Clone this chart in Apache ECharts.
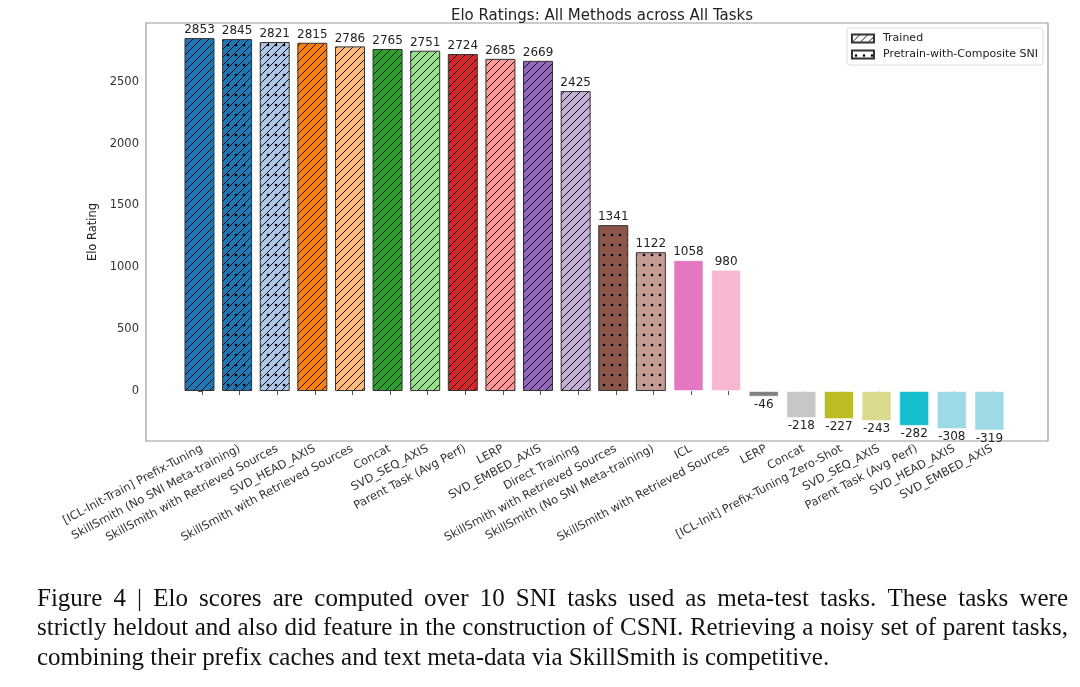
<!DOCTYPE html>
<html>
<head>
<meta charset="utf-8">
<script src="https://cdn.jsdelivr.net/npm/echarts@6/dist/echarts.min.js"></script>
<style>
  html, body { margin: 0; padding: 0; background: #fff; }
  #chart { width: 1080px; height: 687px; }
</style>
</head>
<body>
<div id="chart"></div>
<script>
var methods = [
  '[ICL-Init-Train] Prefix-Tuning',
  'SkillSmith (No SNI Meta-training)',
  'SkillSmith with Retrieved Sources',
  'SVD_HEAD_AXIS',
  'SkillSmith with Retrieved Sources',
  'Concat',
  'SVD_SEQ_AXIS',
  'Parent Task (Avg Perf)',
  'LERP',
  'SVD_EMBED_AXIS',
  'Direct Training',
  'SkillSmith with Retrieved Sources',
  'SkillSmith (No SNI Meta-training)',
  'ICL',
  'SkillSmith with Retrieved Sources',
  'LERP',
  'Concat',
  '[ICL-Init] Prefix-Tuning Zero-Shot',
  'SVD_SEQ_AXIS',
  'Parent Task (Avg Perf)',
  'SVD_HEAD_AXIS',
  'SVD_EMBED_AXIS'
];
var elo = [2853, 2845, 2821, 2815, 2786, 2765, 2751, 2724, 2685, 2669, 2425,
           1341, 1122, 1058, 980, -46, -218, -227, -243, -282, -308, -319];
// tab20 colours
var colors = ['#1f77b4', '#1f77b4', '#aec7e8', '#ff7f0e', '#ffbb78', '#2ca02c', '#98df8a',
              '#d62728', '#ff9896', '#9467bd', '#c5b0d5', '#8c564b', '#c49c94', '#e377c2',
              '#f7b6d2', '#7f7f7f', '#c7c7c7', '#bcbd22', '#dbdb8d', '#17becf', '#9edae5', '#9edae5'];
// 1 = trained (hatched //)
var trained   = [1,1,1,1,1,1,1,1,1,1,1,0,0,0,0,0,0,0,0,0,0,0];
// 1 = pretrained with composite SNI (dotted)
var composite = [0,1,1,0,0,0,0,0,0,0,0,1,1,0,0,0,0,0,0,0,0,0];
var yTicks = [0, 500, 1000, 1500, 2000, 2500];
var caption = [
  'Figure 4 | Elo scores are computed over 10 SNI tasks used as meta-test tasks.  These tasks were',
  'strictly heldout and also did feature in the construction of CSNI. Retrieving a noisy set of parent tasks,',
  'combining their prefix caches and text meta-data via SkillSmith is competitive.'
];

// hatch tile: 8px wide, 40px tall (lines every 8px, dots every 8 x 10px)
function makePattern(bg, lines, dots) {
  var w = 8, h = 40;
  var c = document.createElement('canvas');
  c.width = w; c.height = h;
  var ctx = c.getContext('2d');
  ctx.fillStyle = bg;
  ctx.fillRect(0, 0, w, h);
  if (lines) {
    ctx.strokeStyle = '#000';
    ctx.lineWidth = 0.9;
    ctx.beginPath();
    for (var k = 0; k <= h / w + 1; k++) {
      ctx.moveTo(-1, k * w + 1);
      ctx.lineTo(w + 1, k * w - w - 1);
    }
    ctx.stroke();
  }
  if (dots) {
    ctx.fillStyle = '#000';
    for (var r = 0; r < h; r += 10) {
      ctx.beginPath();
      ctx.arc(4, r + 5, 1.3, 0, Math.PI * 2);
      ctx.fill();
    }
  }
  return { image: c, repeat: 'repeat' };
}

var barData = elo.map(function (v, i) {
  var hatched = trained[i] || composite[i];
  return {
    value: [i, v],
    itemStyle: {
      color: hatched ? makePattern(colors[i], trained[i], composite[i]) : colors[i],
      borderColor: hatched ? '#333' : 'rgba(255,255,255,0.6)',
      borderWidth: 1
    },
    label: { position: v < 0 ? 'bottom' : 'top' }
  };
});

var idx = methods.map(function (m, i) { return i; });

// caption: justified like the paper (all lines but the last)
var capFont = '25px "Liberation Serif"';
var capLeft = 37, capWidth = 1031, capTop = 587, capLead = 29.3;
var measure = document.createElement('canvas').getContext('2d');
measure.font = capFont;
var captionEls = [];
caption.forEach(function (line, li) {
  var words = line.split(/\s+/);
  var y = capTop + li * capLead;
  if (li === caption.length - 1) {
    captionEls.push({ type: 'text', x: capLeft, y: y,
      style: { text: line, font: capFont, fill: '#111', verticalAlign: 'top' } });
    return;
  }
  var total = 0;
  words.forEach(function (w) { total += measure.measureText(w).width; });
  var gap = (capWidth - total) / (words.length - 1);
  var x = capLeft;
  words.forEach(function (w) {
    captionEls.push({ type: 'text', x: x, y: y,
      style: { text: w, font: capFont, fill: '#111', verticalAlign: 'top' } });
    x += measure.measureText(w).width + gap;
  });
});

var chart = echarts.init(document.getElementById('chart'));
chart.setOption({
  animation: false,
  textStyle: { fontFamily: 'DejaVu Sans' },
  title: { text: 'Elo Ratings: All Methods across All Tasks', left: 597, top: 4, textAlign: 'center',
    textStyle: { fontSize: 15, fontWeight: 'normal', color: '#222' } },
  graphic: captionEls,
  legend: {
    data: ['Trained', 'Pretrain-with-Composite SNI'],
    orient: 'vertical',
    right: 37, top: 28,
    itemWidth: 22, itemHeight: 8, itemGap: 5,
    icon: 'rect',
    padding: [5, 5, 5, 4],
    borderColor: '#ddd', borderWidth: 1, borderRadius: 3,
    textStyle: { fontSize: 11, color: '#222', padding: [0, 0, 0, 4] }
  },
  grid: { left: 146, right: 32, top: 23, bottom: 246, show: true, borderColor: '#999', borderWidth: 1.2 },
  xAxis: {
    type: 'value',
    min: -1.49, max: 22.49,
    axisLine: { show: false },
    splitLine: { show: false },
    axisTick: { show: true, length: 4, customValues: idx, lineStyle: { color: '#555' } },
    axisLabel: {
      customValues: idx, rotate: 28, fontSize: 11.5, color: '#333', margin: 7,
      formatter: function (v) { return methods[v]; }
    }
  },
  yAxis: {
    type: 'value',
    min: -404, max: 2975,
    name: 'Elo Rating', nameLocation: 'middle', nameGap: 22, nameRotate: 90,
    nameTextStyle: { fontSize: 11.5, color: '#222' },
    axisLine: { show: false },
    splitLine: { show: false },
    axisTick: { show: true, length: 4, customValues: yTicks, lineStyle: { color: '#555' } },
    axisLabel: { customValues: yTicks, fontSize: 11.5, color: '#333', margin: 7,
      formatter: function (v) { return String(v); } }
  },
  series: [
    {
      name: 'Elo', type: 'bar', barWidth: 30, data: barData,
      label: {
        show: true, fontSize: 12, color: '#222', distance: 2,
        formatter: function (p) { return p.value[1]; }
      }
    },
    { name: 'Trained', type: 'bar', data: [],
      itemStyle: { color: makePattern('#fff', 1, 0), borderColor: '#333', borderWidth: 1 } },
    { name: 'Pretrain-with-Composite SNI', type: 'bar', data: [],
      itemStyle: { color: makePattern('#fff', 0, 1), borderColor: '#333', borderWidth: 1 } }
  ]
});
</script>
</body>
</html>
